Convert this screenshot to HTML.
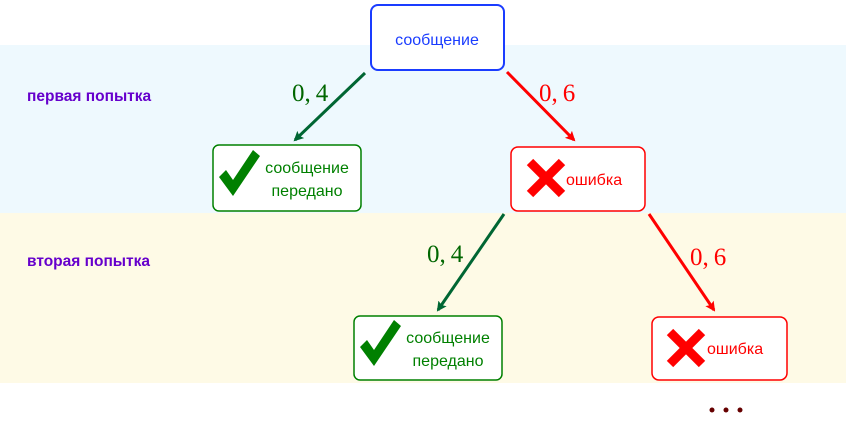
<!DOCTYPE html>
<html><head><meta charset="utf-8"><style>
html,body{margin:0;padding:0;background:#fff;}
svg{display:block;}
text{font-family:"Liberation Sans","DejaVu Sans",sans-serif;}
.m{font-family:"Liberation Serif",serif;font-size:25px;}
</style></head><body>
<svg width="846" height="426" viewBox="0 0 846 426" xmlns="http://www.w3.org/2000/svg">
<defs>
<marker id="ag" markerWidth="10" markerHeight="10" refX="8" refY="5" orient="auto" markerUnits="userSpaceOnUse" viewBox="0 0 10 10"><path d="M0,0 L10,5 L0,10 L2,5 Z" fill="#006633"/></marker>
<marker id="ar" markerWidth="10" markerHeight="10" refX="8" refY="5" orient="auto" markerUnits="userSpaceOnUse" viewBox="0 0 10 10"><path d="M0,0 L10,5 L0,10 L2,5 Z" fill="#ff0000"/></marker>
<g id="chk"><polygon points="0,27 7,20 14,30 34,0 41,6 14,46" fill="#008000"/></g>
<g id="crs" stroke="#ff0000" stroke-width="9"><line x1="0" y1="0" x2="32" y2="32"/><line x1="32" y1="0" x2="0" y2="32"/></g>
</defs>
<rect x="0" y="45" width="846" height="168" fill="#eef9fe"/>
<rect x="0" y="213" width="846" height="170" fill="#fefae6"/>
<text x="27" y="101" font-size="15.5" font-weight="bold" fill="#6600cc">первая попытка</text>
<text x="27" y="266" font-size="15.5" font-weight="bold" fill="#6600cc">вторая попытка</text>

<rect x="371" y="5" width="133" height="65" rx="7" fill="#fff" stroke="#1a3cff" stroke-width="2"/>
<text x="437" y="45" font-size="16" fill="#1a3cff" text-anchor="middle">сообщение</text>

<line x1="365" y1="73" x2="295" y2="140" stroke="#006633" stroke-width="3" marker-end="url(#ag)"/>
<line x1="507" y1="72" x2="574" y2="140" stroke="#ff0000" stroke-width="3" marker-end="url(#ar)"/>
<text x="292" y="101" class="m" fill="#006600">0,<tspan dx="5">4</tspan></text>
<text x="539" y="101" class="m" fill="#ff0000">0,<tspan dx="5">6</tspan></text>

<rect x="213" y="145" width="148" height="66" rx="6" fill="#fff" stroke="#008000" stroke-width="1.5"/>
<use href="#chk" x="219" y="150"/>
<text x="307" y="173" font-size="16" fill="#008000" text-anchor="middle">сообщение</text>
<text x="307" y="196" font-size="16" fill="#008000" text-anchor="middle">передано</text>

<rect x="511" y="147" width="134" height="64" rx="7" fill="#fff" stroke="#ff0000" stroke-width="1.5"/>
<use href="#crs" x="530" y="162"/>
<text x="566" y="185" font-size="16" fill="#ff0000">ошибка</text>

<line x1="504" y1="214" x2="438" y2="310" stroke="#006633" stroke-width="3" marker-end="url(#ag)"/>
<line x1="649" y1="214" x2="714" y2="310" stroke="#ff0000" stroke-width="3" marker-end="url(#ar)"/>
<text x="427" y="262" class="m" fill="#006600">0,<tspan dx="5">4</tspan></text>
<text x="690" y="265" class="m" fill="#ff0000">0,<tspan dx="5">6</tspan></text>

<rect x="354" y="316" width="148" height="64" rx="6" fill="#fff" stroke="#008000" stroke-width="1.5"/>
<use href="#chk" x="360" y="320"/>
<text x="448" y="343" font-size="16" fill="#008000" text-anchor="middle">сообщение</text>
<text x="448" y="366" font-size="16" fill="#008000" text-anchor="middle">передано</text>

<rect x="652" y="317" width="135" height="63" rx="7" fill="#fff" stroke="#ff0000" stroke-width="1.5"/>
<use href="#crs" x="670" y="332"/>
<text x="707" y="354" font-size="16" fill="#ff0000">ошибка</text>

<circle cx="712" cy="410" r="2.5" fill="#660000"/>
<circle cx="726" cy="410" r="2.5" fill="#660000"/>
<circle cx="740" cy="410" r="2.5" fill="#660000"/>
</svg>
</body></html>
